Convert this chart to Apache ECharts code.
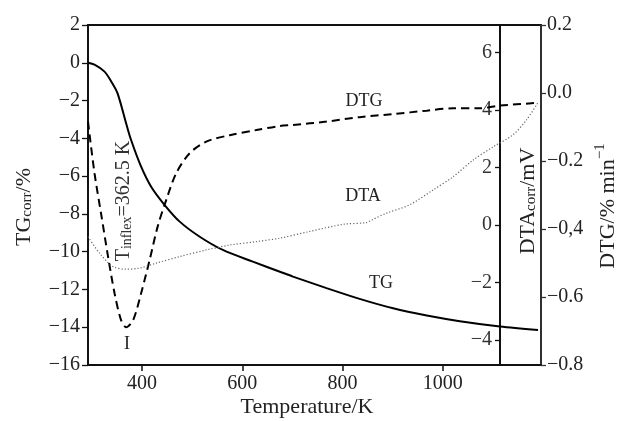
<!DOCTYPE html>
<html>
<head>
<meta charset="utf-8">
<script src="https://cdn.jsdelivr.net/npm/echarts@6/dist/echarts.min.js"></script>
<style>html,body{margin:0;padding:0;background:#fff}#c{width:617px;height:421px}</style>
</head>
<body>
<div id="c"></div>
<script>
// ---- data ----
var tgTemp = [292,305,325,339,351,368,378,398,418,445,475,515,561,621,675,701,768,834,901,968,1034,1114,1190];
var tgVal  = [0.0,-0.1,-0.47,-1.02,-1.62,-3.20,-4.09,-5.50,-6.56,-7.53,-8.41,-9.21,-9.91,-10.53,-11.06,-11.32,-11.93,-12.50,-13.00,-13.38,-13.68,-13.96,-14.15];

var dtgTemp = [292,305,318,332,345,358,368,382,398,415,431,448,468,495,528,575,628,675,701,768,834,901,968,1021,1074,1114,1190];
var dtgVal  = [-0.084,-0.236,-0.354,-0.481,-0.589,-0.668,-0.689,-0.668,-0.589,-0.491,-0.393,-0.315,-0.236,-0.177,-0.143,-0.124,-0.109,-0.097,-0.094,-0.084,-0.071,-0.062,-0.052,-0.045,-0.045,-0.037,-0.029];

var dtaTemp = [292,315,342,368,395,428,475,528,575,628,675,734,801,848,858,888,934,981,1021,1061,1101,1140,1167,1190];
var dtaVal  = [-0.41,-0.98,-1.45,-1.54,-1.50,-1.33,-1.10,-0.87,-0.70,-0.58,-0.46,-0.23,0.02,0.08,0.17,0.41,0.70,1.22,1.68,2.26,2.72,3.13,3.65,4.25];

var xTicks = [400,600,800,1000];
var tgTicks = [-16,-14,-12,-10,-8,-6,-4,-2,0,2];
var dtgTicks = [-0.8,-0.6,-0.4,-0.2,0,0.2];
var dtgTickLabels = ['\u22120.8','\u22120.6','\u22120,4','\u22120.2','0.0','0.2'];
var dtaTicks = [-4,-2,0,2,4,6];

function pairs(a,b){return a.map(function(v,i){return [v,b[i]];});}
function minus(v){return String(v).replace('-','\u2212');}

var FONT = 'Liberation Serif';
var chart = echarts.init(document.getElementById('c'));

chart.setOption({
  animation:false,
  backgroundColor:'#fff',
  grid:{left:88, right:76, top:25, bottom:56, show:true, borderColor:'#111', borderWidth:1.8, backgroundColor:'transparent'},
  xAxis:{
    type:'value', min:292, max:1196,
    axisLine:{show:true, onZero:false, lineStyle:{color:'#111', width:1.8}},
    axisTick:{show:true, length:6, lineStyle:{color:'#111', width:1.5}, customValues:xTicks},
    axisLabel:{fontFamily:FONT, fontSize:20, color:'#222', margin:9, customValues:xTicks, formatter:function(v){return String(v);}},
    splitLine:{show:false}
  },
  yAxis:[
    {type:'value', position:'left', min:-16, max:2, interval:2,
     axisLine:{show:true, onZero:false, lineStyle:{color:'#111', width:1.8}},
     axisTick:{show:true, length:6, lineStyle:{color:'#111', width:1.3}},
     axisLabel:{fontFamily:FONT, fontSize:20, color:'#222', margin:8, formatter:function(v){return minus(v);}},
     splitLine:{show:false}},
    {type:'value', position:'right', min:-0.8, max:0.2,
     axisLine:{show:true, onZero:false, lineStyle:{color:'#333', width:1.5}},
     axisTick:{show:true, length:5, lineStyle:{color:'#333', width:1.3}, customValues:dtgTicks},
     axisLabel:{fontFamily:FONT, fontSize:20, color:'#222', margin:6, customValues:dtgTicks,
       formatter:function(v){var i=dtgTicks.findIndex(function(t){return Math.abs(t-v)<1e-6;});return i>=0?dtgTickLabels[i]:'';}},
     splitLine:{show:false}},
    {type:'value', position:'right', offset:-41, min:-4.87, max:6.95,
     axisLine:{show:true, onZero:false, lineStyle:{color:'#111', width:2}},
     axisTick:{show:true, inside:true, length:5, lineStyle:{color:'#111', width:1.3}, customValues:dtaTicks},
     axisLabel:{inside:true, fontFamily:FONT, fontSize:20, color:'#333', margin:8, customValues:dtaTicks,
       formatter:function(v){return minus(v);}},
     splitLine:{show:false}}
  ],
  series:[
    {name:'TG', type:'line', xAxisIndex:0, yAxisIndex:0, data:pairs(tgTemp,tgVal), smooth:0.3, showSymbol:false,
     lineStyle:{color:'#000', width:2}},
    {name:'DTG', type:'line', xAxisIndex:0, yAxisIndex:1, data:pairs(dtgTemp,dtgVal), smooth:0.3, showSymbol:false,
     lineStyle:{color:'#000', width:2, type:[8,5]}},
    {name:'DTA', type:'line', xAxisIndex:0, yAxisIndex:2, data:pairs(dtaTemp,dtaVal), smooth:0.3, showSymbol:false,
     lineStyle:{color:'#666', width:1.2, type:[1.2,2]}}
  ],
  graphic:[
    {type:'text', x:22, y:207, rotation:Math.PI/2, style:{text:'{m|TG}{s|corr}{m|/%}', align:'center', verticalAlign:'middle', textAlign:'center', textVerticalAlign:'middle', fill:'#222',
      rich:{m:{fontFamily:FONT, fontSize:22, lineHeight:26, verticalAlign:'bottom', fill:'#222'}, s:{fontFamily:FONT, fontSize:15, lineHeight:15, verticalAlign:'bottom', fill:'#222'}}}},
    {type:'text', x:307, y:407, style:{text:'Temperature/K', font:'22px "Liberation Serif"', fill:'#222', align:'center', verticalAlign:'middle', textAlign:'center', textVerticalAlign:'middle'}},
    {type:'text', x:526, y:201, rotation:Math.PI/2, style:{text:'{m|DTA}{s|corr}{m|/mV}', align:'center', verticalAlign:'middle', textAlign:'center', textVerticalAlign:'middle', fill:'#222',
      rich:{m:{fontFamily:FONT, fontSize:22, lineHeight:26, verticalAlign:'bottom', fill:'#222'}, s:{fontFamily:FONT, fontSize:15, lineHeight:15, verticalAlign:'bottom', fill:'#222'}}}},
    {type:'text', x:606, y:206, rotation:Math.PI/2, style:{text:'{m|DTG/% min}{p|\u22121}', align:'center', verticalAlign:'middle', textAlign:'center', textVerticalAlign:'middle', fill:'#222',
      rich:{m:{fontFamily:FONT, fontSize:22, lineHeight:26, verticalAlign:'bottom', fill:'#222'}, p:{fontFamily:FONT, fontSize:15, lineHeight:15, verticalAlign:'top', fill:'#222'}}}},
    {type:'text', x:122, y:201, rotation:Math.PI/2, style:{text:'{m|T}{s|inflex}{m|=362.5 K}', align:'center', verticalAlign:'middle', textAlign:'center', textVerticalAlign:'middle', fill:'#333',
      rich:{m:{fontFamily:FONT, fontSize:20, lineHeight:24, verticalAlign:'bottom', fill:'#333'}, s:{fontFamily:FONT, fontSize:14, lineHeight:14, verticalAlign:'bottom', fill:'#333'}}}},
    {type:'text', x:364, y:101, style:{text:'DTG', font:'18px "Liberation Serif"', fill:'#222', align:'center', verticalAlign:'middle', textAlign:'center', textVerticalAlign:'middle'}},
    {type:'text', x:363, y:196, style:{text:'DTA', font:'18px "Liberation Serif"', fill:'#222', align:'center', verticalAlign:'middle', textAlign:'center', textVerticalAlign:'middle'}},
    {type:'text', x:381, y:283, style:{text:'TG', font:'18px "Liberation Serif"', fill:'#222', align:'center', verticalAlign:'middle', textAlign:'center', textVerticalAlign:'middle'}},
    {type:'text', x:127, y:344, style:{text:'I', font:'18px "Liberation Serif"', fill:'#222', align:'center', verticalAlign:'middle', textAlign:'center', textVerticalAlign:'middle'}}
  ]
});
</script>
</body>
</html>
